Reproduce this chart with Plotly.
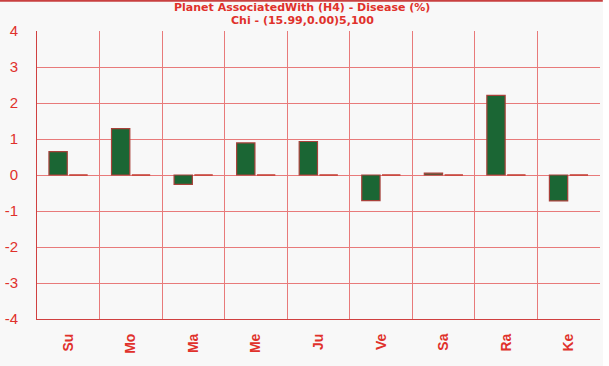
import plotly.graph_objects as go

categories = ["Su", "Mo", "Ma", "Me", "Ju", "Ve", "Sa", "Ra", "Ke"]
values_a = [0.65, 1.29, -0.26, 0.89, 0.93, -0.71, 0.05, 2.21, -0.72]
values_b = [0, 0, 0, 0, 0, 0, 0, 0, 0]
y_ticks = [-4, -3, -2, -1, 0, 1, 2, 3, 4]
y_tick_text = ["-4", "-3", "-2", "-1", "0", "1", "2", "3", "4"]
title_lines = ["Planet AssociatedWith (H4) - Disease (%)", "Chi - (15.99,0.00)5,100"]

RED = "#e0312b"
GRID = "#e87a7a"

fig = go.Figure()
fig.add_trace(go.Bar(x=categories, y=values_a, marker=dict(color="#1b6634", line=dict(color="#a8413a", width=1.2)), showlegend=False))
fig.add_trace(go.Bar(x=categories, y=values_b, marker=dict(color="#c0392b", line=dict(color="#c23a30", width=1)), showlegend=False))

annotations = []
for i, t in enumerate(title_lines):
    annotations.append(dict(text="<b>" + t + "</b>", xref="paper", yref="paper",
                            x=(302 - 37) / 563, y=(319 - (8 + 13 * i)) / 288,
                            xanchor="center", yanchor="middle", showarrow=False,
                            font=dict(family="DejaVu Sans", size=11, color=RED)))

fig.update_layout(
    width=609, height=366,
    margin=dict(l=37, r=9, t=31, b=47),
    paper_bgcolor="#f8f8f8", plot_bgcolor="#f8f8f8",
    barmode="group", bargap=0.35, bargroupgap=0.1,
    annotations=annotations,
    font=dict(family="Liberation Sans, Arial", color=RED),
    xaxis=dict(tickson="boundaries", showgrid=True, gridcolor=GRID, gridwidth=1,
               showline=True, linecolor="#d04040", linewidth=1, mirror=False, automargin=False,
               tickangle=-90, ticks="", tickfont=dict(size=14, color=RED, family="Liberation Sans, Arial", weight="bold"),
               ticklabelstandoff=8),
    yaxis=dict(range=[-4, 4], tickvals=y_ticks, ticktext=y_tick_text, showgrid=True, gridcolor=GRID,
               gridwidth=1, zeroline=False, showline=True, linecolor="#d04040", linewidth=1, automargin=False,
               ticks="", tickfont=dict(size=15, color=RED, family="Liberation Sans, Arial"),
               ticklabelstandoff=15),
    shapes=[
        dict(type="line", xref="paper", yref="paper", x0=-0.07, x1=1.005, y0=1.105, y1=1.105,
             line=dict(color="#c94040", width=2)),
        dict(type="rect", xref="paper", yref="paper", x0=1.0055, x1=1.03, y0=-0.2, y1=1.12,
             fillcolor="white", line=dict(width=0), layer="below"),
    ],
)
fig.write_html("out.html")
